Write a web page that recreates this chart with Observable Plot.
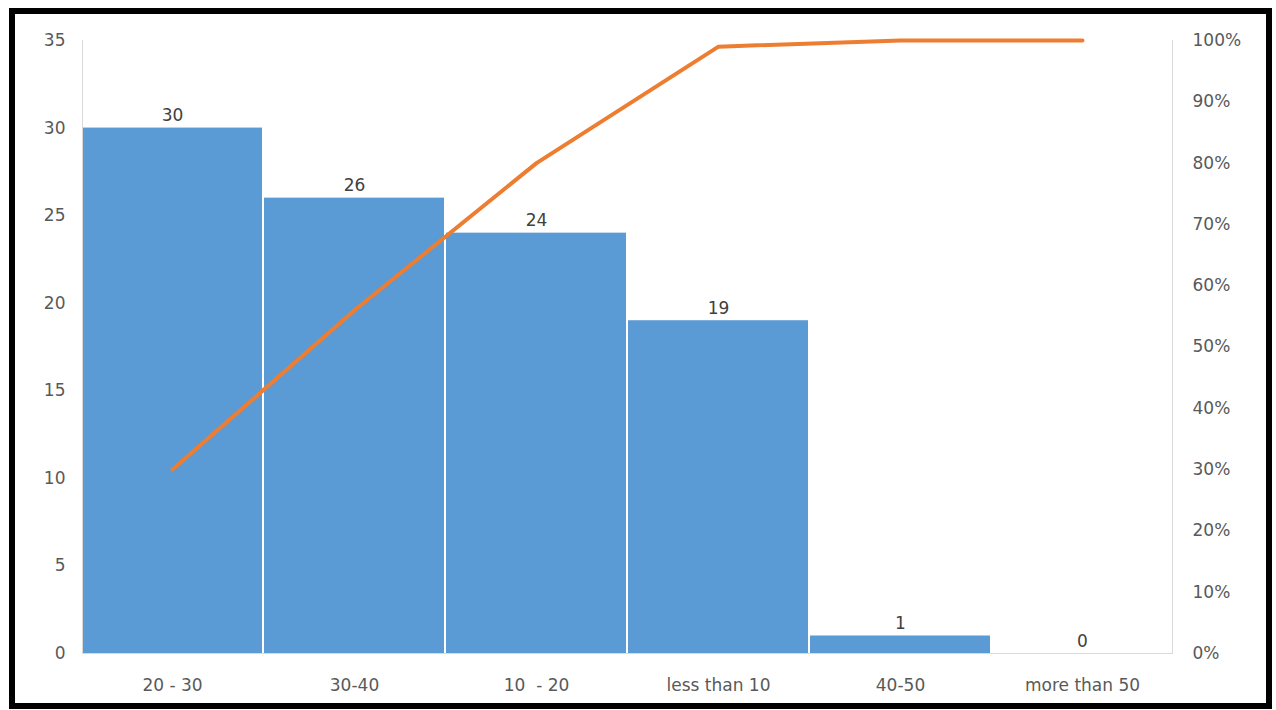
<!DOCTYPE html>
<html>
<head>
<meta charset="utf-8">
<script src="https://cdn.jsdelivr.net/npm/d3@7"></script>
<script src="https://cdn.jsdelivr.net/npm/@observablehq/plot@0.6"></script>
<style>
  html, body { margin: 0; padding: 0; background: #fff; }
  #wrap { position: relative; width: 1276px; height: 710px; overflow: hidden; }
  #border { position: absolute; left: 9px; top: 8px; width: 1263px; height: 701px; box-sizing: border-box; border: 6px solid #000; pointer-events: none; }
  svg { display: block; }
</style>
</head>
<body>
<div id="wrap"><div id="chart"></div><div id="border"></div></div>
<script>
const categories = ["20 - 30", "30-40", "10  - 20", "less than 10", "40-50", "more than 50"];
const counts = [30, 26, 24, 19, 1, 0];
const cumulativePct = [30, 56, 80, 99, 100, 100];
const leftTicks = [0, 5, 10, 15, 20, 25, 30, 35];
const pctTicks = [0, 10, 20, 30, 40, 50, 60, 70, 80, 90, 100];

const yMax = 35;
const rows = categories.map((c, i) => ({cat: c, count: counts[i], pct: cumulativePct[i], pctY: cumulativePct[i] / 100 * yMax}));

const font = "'DejaVu Sans', sans-serif";

const chart = Plot.plot({
  width: 1276,
  height: 710,
  marginLeft: 82,
  marginRight: 104,
  marginTop: 40,
  marginBottom: 57,
  style: {fontFamily: font, fontSize: "17px", color: "#595959", background: "#fff"},
  x: {domain: categories, paddingInner: 0.012, paddingOuter: 0, label: null},
  y: {domain: [0, yMax], label: null},
  marks: [
    Plot.barY(rows, {x: "cat", y: "count", fill: "#5B9BD5"}),
    Plot.frame({anchor: "left", stroke: "#d9d9d9"}),
    Plot.frame({anchor: "right", stroke: "#d9d9d9"}),
    Plot.ruleY([0], {stroke: "#d9d9d9"}),
    Plot.text(rows, {x: "cat", y: "count", text: d => String(d.count), lineAnchor: "bottom", dy: -7, fill: "#404040", fontSize: 17}),
    Plot.line(rows, {x: "cat", y: "pctY", stroke: "#ED7D31", strokeWidth: 4, strokeLinejoin: "round", strokeLinecap: "round"}),
    Plot.axisY({anchor: "left", ticks: leftTicks, tickSize: 0, tickPadding: 17, label: null, fill: "#595959", fontSize: 17}),
    Plot.axisY({anchor: "right", ticks: pctTicks.map(p => p / 100 * yMax), tickFormat: d => Math.round(d / yMax * 100) + "%", tickSize: 0, tickPadding: 20, label: null, fill: "#595959", fontSize: 17}),
    Plot.axisX({anchor: "bottom", tickSize: 0, tickPadding: 25, label: null, fill: "#595959", fontSize: 17})
  ]
});
document.getElementById("chart").appendChild(chart);
</script>
</body>
</html>
